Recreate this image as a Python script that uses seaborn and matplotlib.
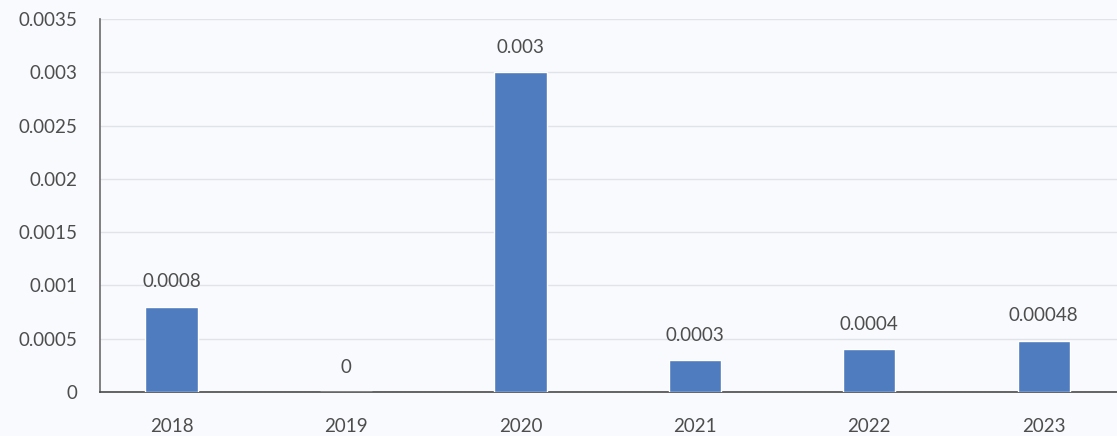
import matplotlib
matplotlib.use("Agg")
import matplotlib.pyplot as plt
import seaborn as sns
import pandas as pd

years = ["2018", "2019", "2020", "2021", "2022", "2023"]
values = [0.0008, 0.0, 0.003, 0.0003, 0.0004, 0.00048]
labels = ["0.0008", "0", "0.003", "0.0003", "0.0004", "0.00048"]
yticks = [0, 0.0005, 0.001, 0.0015, 0.002, 0.0025, 0.003, 0.0035]
ytick_labels = ["0", "0.0005", "0.001", "0.0015", "0.002", "0.0025", "0.003", "0.0035"]

df = pd.DataFrame({"year": years, "value": values})

sns.set_theme(style="white")
plt.rcParams["font.family"] = ["Lato", "DejaVu Sans"]
text_col = "#4D4D4D"
bg = "#F9FAFD"

fig = plt.figure(figsize=(11.17, 4.36), dpi=100, facecolor=bg)
ax = fig.add_axes([100 / 1117, 44 / 436, 1017 / 1117, 373 / 436])
ax.set_facecolor(bg)

sns.barplot(data=df, x="year", y="value", color="#4F7CBF", width=0.30,
            saturation=1, ax=ax, zorder=3)

ax.set_xlim(-0.41, 5.42)
ax.set_ylim(0, 0.0035)
ax.set_yticks(yticks)
ax.set_yticklabels(ytick_labels)
ax.yaxis.grid(True, color="#E1E3EA", linewidth=1)
ax.set_axisbelow(True)

for s in ["top", "right"]:
    ax.spines[s].set_visible(False)
ax.spines["left"].set_color("#6B6B6B")
ax.spines["left"].set_linewidth(1.2)
ax.spines["bottom"].set_color("#4A4A4A")
ax.spines["bottom"].set_linewidth(1.2)

ax.tick_params(axis="y", length=0, pad=16, labelsize=13.5, labelcolor=text_col)
ax.tick_params(axis="x", length=0, pad=19, labelsize=13.5, labelcolor=text_col)
ax.set_xlabel("")
ax.set_ylabel("")

for i, (v, lab) in enumerate(zip(values, labels)):
    ax.annotate(lab, (i, v), xytext=(0, 18), textcoords="offset points",
                ha="center", va="center", fontsize=13.5, color=text_col)

fig.savefig("out.png", dpi=100, facecolor=bg)
